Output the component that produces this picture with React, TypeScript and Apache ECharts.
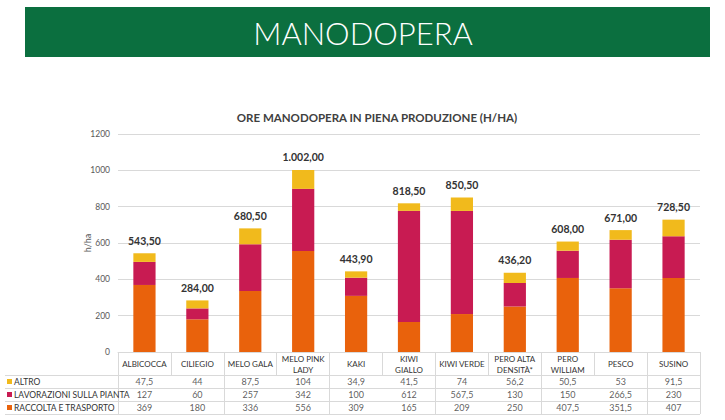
import React, { useEffect, useRef } from "react";
import * as echarts from "echarts";

// Crop categories (line breaks as shown in the table header)
const categories = [
  "ALBICOCCA",
  "CILIEGIO",
  "MELO GALA",
  "MELO PINK\nLADY",
  "KAKI",
  "KIWI\nGIALLO",
  "KIWI VERDE",
  "PERO ALTA\nDENSITÀ*",
  "PERO\nWILLIAM",
  "PESCO",
  "SUSINO",
];

// Hours per hectare by activity
const altro = [47.5, 44, 87.5, 104, 34.9, 41.5, 74, 56.2, 50.5, 53, 91.5];
const lavorazioni = [127, 60, 257, 342, 100, 612, 567.5, 130, 150, 266.5, 230];
const raccolta = [369, 180, 336, 556, 309, 165, 209, 250, 407.5, 351.5, 407];

const seriesNames = ["ALTRO", "LAVORAZIONI SULLA PIANTA", "RACCOLTA E TRASPORTO"];
const seriesColors = ["#F1BA1C", "#C81B52", "#E9620C"];

const FONT = "Lato, 'Open Sans', sans-serif";
const GRID_LINE = "#d9d9d9";

// Italian number format: 1.002,00
function fmtTotal(v: number): string {
  const [int, dec] = v.toFixed(2).split(".");
  const withSep = int.replace(/\B(?=(\d{3})+(?!\d))/g, ".");
  return withSep + "," + dec;
}
function fmtCell(v: number): string {
  return String(v).replace(".", ",");
}

export default function App() {
  const ref = useRef<HTMLDivElement>(null);

  useEffect(() => {
    document.body.style.margin = "0";
    if (!ref.current) return;
    const chart = echarts.init(ref.current, undefined, { renderer: "svg" });

    const totals = altro.map((a, i) => a + lavorazioni[i] + raccolta[i]);
    const tableRows = [altro, lavorazioni, raccolta];
    const cellData: [number, number, number][] = [];
    tableRows.forEach((row, r) => row.forEach((v, c) => cellData.push([c, r, v])));

    const rich: Record<string, any> = {
      t: { fontFamily: FONT, fontSize: 8.5, color: "#333", padding: [0, 0, 0, 2] },
    };
    seriesColors.forEach((col, i) => {
      rich["sq" + i] = { width: 5, height: 5, backgroundColor: col };
    });

    chart.setOption({
      animation: false,
      textStyle: { fontFamily: FONT },
      graphic: [
        {
          type: "rect",
          shape: { x: 25, y: 7, width: 685, height: 50 },
          style: { fill: "#0B6F3F" },
        },
        {
          type: "text",
          x: 363,
          y: 33,
          style: {
            text: "MANODOPERA",
            fill: "#ffffff",
            fontFamily: FONT,
            fontWeight: 300,
            fontSize: 31,
            textAlign: "center",
            textVerticalAlign: "middle",
          },
        },
        {
          type: "text",
          x: 377,
          y: 117,
          style: {
            text: "ORE MANODOPERA IN PIENA PRODUZIONE (H/HA)",
            fill: "#404040",
            fontFamily: FONT,
            fontWeight: "bold",
            fontSize: 11.5,
            textAlign: "center",
            textVerticalAlign: "middle",
          },
        },
      ],
      grid: [
        { left: 118, right: 25, top: 134, bottom: 68 },
        { left: 118, right: 25, top: 375, height: 39 },
      ],
      xAxis: [
        {
          type: "category",
          gridIndex: 0,
          data: categories,
          axisLine: { show: true, lineStyle: { color: GRID_LINE } },
          axisTick: { show: true, length: 23, lineStyle: { color: GRID_LINE } },
          axisLabel: {
            interval: 0,
            margin: 12,
            verticalAlign: "middle",
            fontSize: 8,
            lineHeight: 11,
            color: "#333",
            fontFamily: FONT,
          },
        },
        {
          type: "category",
          gridIndex: 1,
          data: categories,
          axisLine: { show: false },
          axisTick: { show: false },
          axisLabel: { show: false },
          splitLine: { show: true, lineStyle: { color: GRID_LINE } },
        },
      ],
      yAxis: [
        {
          type: "value",
          gridIndex: 0,
          min: 0,
          max: 1200,
          interval: 200,
          name: "h/ha",
          nameLocation: "middle",
          nameGap: 26,
          nameMoveOverlap: false,
          nameRotate: 90,
          nameTextStyle: { fontSize: 9, color: "#595959", fontFamily: FONT },
          axisLine: { show: false },
          axisTick: { show: false },
          axisLabel: {
            fontSize: 8.5,
            color: "#595959",
            margin: 8,
            fontFamily: FONT,
            formatter: (v: number) => String(v),
          },
          splitLine: { lineStyle: { color: GRID_LINE } },
        },
        {
          type: "category",
          gridIndex: 1,
          inverse: true,
          data: seriesNames,
          axisLine: { show: false },
          axisTick: { show: true, length: 113, lineStyle: { color: GRID_LINE } },
          axisLabel: {
            interval: 0,
            hideOverlap: false,
            align: "left",
            margin: 111,
            formatter: (value: string, index: number) => `{sq${index}|}{t|${value}}`,
            rich,
          },
          splitLine: { show: true, lineStyle: { color: GRID_LINE } },
        },
      ],
      series: [
        {
          name: seriesNames[2],
          type: "bar",
          stack: "tot",
          xAxisIndex: 0,
          yAxisIndex: 0,
          barWidth: "42%",
          itemStyle: { color: seriesColors[2] },
          data: raccolta,
        },
        {
          name: seriesNames[1],
          type: "bar",
          stack: "tot",
          xAxisIndex: 0,
          yAxisIndex: 0,
          barWidth: "42%",
          itemStyle: { color: seriesColors[1] },
          data: lavorazioni,
        },
        {
          name: seriesNames[0],
          type: "bar",
          stack: "tot",
          xAxisIndex: 0,
          yAxisIndex: 0,
          barWidth: "42%",
          itemStyle: { color: seriesColors[0] },
          data: altro,
          label: {
            show: true,
            position: "top",
            distance: 7,
            fontFamily: FONT,
            fontWeight: "bold",
            fontSize: 10.5,
            color: "#333",
            formatter: (p: any) => fmtTotal(totals[p.dataIndex]),
          },
        },
        {
          name: "tabella",
          type: "scatter",
          xAxisIndex: 1,
          yAxisIndex: 1,
          symbolSize: 0,
          silent: true,
          data: cellData,
          label: {
            show: true,
            position: "inside",
            fontFamily: FONT,
            fontSize: 9,
            color: "#333",
            formatter: (p: any) => fmtCell(p.value[2]),
          },
        },
      ],
    });

    return () => chart.dispose();
  }, []);

  return <div ref={ref} style={{ width: 725, height: 420 }} />;
}
